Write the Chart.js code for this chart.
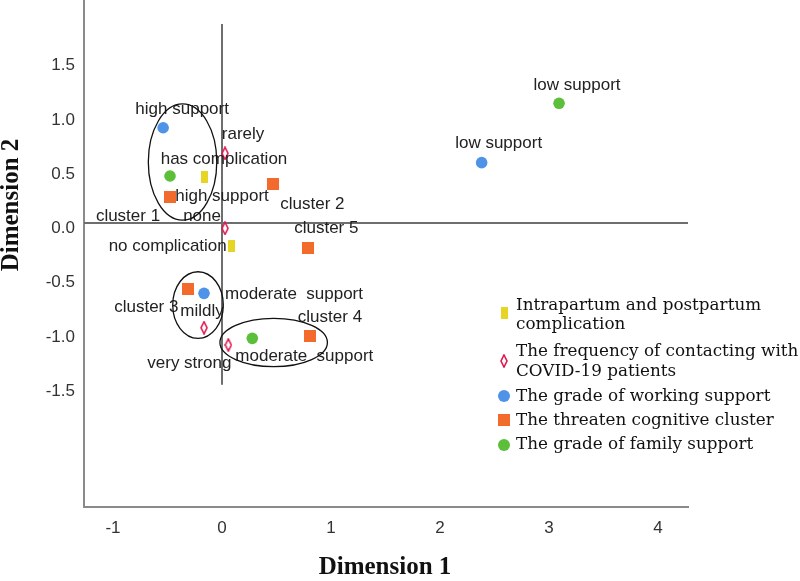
<!DOCTYPE html>
<html>
<head>
<meta charset="utf-8">
<script src="https://cdn.jsdelivr.net/npm/chart.js@4/dist/chart.umd.min.js"></script>
<style>
  html, body { margin: 0; padding: 0; background: #fff; }
  #wrap { width: 800px; height: 581px; }
</style>
</head>
<body>
<div id="wrap"><canvas id="c" width="800" height="581"></canvas></div>
<script>
// ---------------- data ----------------
const xTicks = [-1, 0, 1, 2, 3, 4];
const yTicks = [-1.5, -1.0, -0.5, 0.0, 0.5, 1.0, 1.5];

const complicationX = [-0.156, 0.089];
const complicationY = [0.421, -0.209];
const complicationLabels = ['has complication', 'no complication'];

const contactX = [0.028, 0.028, -0.165, 0.058];
const contactY = [0.642, -0.049, -0.965, -1.124];
const contactLabels = ['rarely', 'none', 'mildly', 'very strong'];

const workingX = [-0.540, -0.165, 2.382];
const workingY = [0.878, -0.648, 0.556];
const workingLabels = ['high support', 'moderate  support', 'low support'];

const clusterX = [-0.477, 0.471, -0.309, 0.807, 0.792];
const clusterY = [0.237, 0.359, -0.611, -1.041, -0.227];
const clusterLabels = ['cluster 1', 'cluster 2', 'cluster 3', 'cluster 4', 'cluster 5'];

const familyX = [-0.477, 0.278, 3.092];
const familyY = [0.433, -1.063, 1.103];
const familyLabels = ['high support', 'moderate  support', 'low support'];

const seriesNames = [
  ['Intrapartum and postpartum', 'complication'],
  ['The frequency of contacting with', 'COVID-19 patients'],
  ['The grade of working support'],
  ['The threaten cognitive cluster'],
  ['The grade of family support']
];

// ellipses (data units): cx, cy, rx, ry
const ellipseCX = [-0.362, -0.220, 0.474];
const ellipseCY = [0.562, -0.756, -1.101];
const ellipseRX = [0.314, 0.232, 0.493];
const ellipseRY = [0.535, 0.307, 0.223];

// ---------------- styling ----------------
const COL = {
  yellow: '#e6d524',
  red: '#e0174f',
  blue: '#4f93e8',
  orange: '#f26a2c',
  green: '#5cbf3a'
};
// label offsets in pixels (centre of text relative to the point)
const labelOffsets = [
  [[19, -18], [-64, 1]],
  [[18, -19], [-23, -12], [-2, -16], [-39, 18]],
  [[19, -18], [90, 1], [17, -19]],
  [[-42, 19], [39, 20], [-42, 18], [20, -19], [18, -19]],
  [[52, 20], [52, 18], [18, -18]]
];

function makeRect(w, h, color) {
  const c = document.createElement('canvas');
  c.width = w; c.height = h;
  const g = c.getContext('2d');
  g.fillStyle = color; g.fillRect(0, 0, w, h);
  return c;
}
function makeDiamond(w, h, color) {
  const c = document.createElement('canvas');
  c.width = w; c.height = h;
  const g = c.getContext('2d');
  g.fillStyle = '#fff';
  g.strokeStyle = color; g.lineWidth = 1.6;
  g.beginPath();
  g.moveTo(w / 2, 1); g.lineTo(w - 1, h / 2); g.lineTo(w / 2, h - 1); g.lineTo(1, h / 2); g.closePath();
  g.fill(); g.stroke();
  return c;
}
const yellowMark = makeRect(7, 12, COL.yellow);
const diamondMark = makeDiamond(8, 14, COL.red);
const orangeMark = makeRect(12, 12, COL.orange);

function pts(xs, ys) { return xs.map((x, i) => ({ x: x, y: ys[i] })); }

const datasets = [
  { label: seriesNames[0].join(' '), data: pts(complicationX, complicationY), pointStyle: yellowMark, texts: complicationLabels },
  { label: seriesNames[1].join(' '), data: pts(contactX, contactY), pointStyle: diamondMark, texts: contactLabels },
  { label: seriesNames[2].join(' '), data: pts(workingX, workingY), pointStyle: 'circle', pointRadius: 5.8, backgroundColor: COL.blue, borderColor: COL.blue, texts: workingLabels },
  { label: seriesNames[3].join(' '), data: pts(clusterX, clusterY), pointStyle: orangeMark, texts: clusterLabels },
  { label: seriesNames[4].join(' '), data: pts(familyX, familyY), pointStyle: 'circle', pointRadius: 5.8, backgroundColor: COL.green, borderColor: COL.green, texts: familyLabels }
];
datasets.forEach(d => { d.borderWidth = 0; if (!d.pointRadius) d.pointRadius = 6; d.pointHoverRadius = d.pointRadius; });

const SANS = '"Liberation Sans", Arial, sans-serif';
const SERIF = '"Liberation Serif", "Times New Roman", serif';
const LEGSERIF = '"DejaVu Serif", serif';

const decorPlugin = {
  id: 'decor',
  beforeDatasetsDraw(chart) {
    const { ctx, scales: { x, y } } = chart;
    ctx.save();
    ctx.strokeStyle = '#6e6e6e';
    ctx.lineWidth = 2;
    ctx.beginPath();
    ctx.moveTo(x.getPixelForValue(0), y.getPixelForValue(1.834));
    ctx.lineTo(x.getPixelForValue(0), y.getPixelForValue(-1.49));
    ctx.moveTo(x.left, y.getPixelForValue(0));
    ctx.lineTo(x.right, y.getPixelForValue(0));
    ctx.stroke();
    ctx.restore();
  },
  afterDatasetsDraw(chart) {
    const { ctx, scales: { x, y } } = chart;
    ctx.save();
    // point labels
    ctx.font = '17px ' + SANS;
    ctx.fillStyle = '#222';
    ctx.textAlign = 'center';
    ctx.textBaseline = 'middle';
    chart.data.datasets.forEach((ds, di) => {
      const meta = chart.getDatasetMeta(di);
      meta.data.forEach((el, i) => {
        const off = labelOffsets[di][i];
        ctx.fillText(ds.texts[i], el.x + off[0], el.y + off[1]);
      });
    });
    // ellipses
    ctx.strokeStyle = '#111';
    ctx.lineWidth = 1.3;
    ellipseCX.forEach((cx, i) => {
      const px = x.getPixelForValue(cx), py = y.getPixelForValue(ellipseCY[i]);
      const rx = Math.abs(x.getPixelForValue(cx + ellipseRX[i]) - px);
      const ry = Math.abs(y.getPixelForValue(ellipseCY[i] + ellipseRY[i]) - py);
      ctx.beginPath();
      ctx.ellipse(px, py, rx, ry, 0, 0, Math.PI * 2);
      ctx.stroke();
    });
    // legend
    const mx = 504, tx = 516;
    const rows = [
      { marks: 313, lines: [306, 325] },
      { marks: 361, lines: [352, 372] },
      { marks: 396, lines: [397] },
      { marks: 420, lines: [421] },
      { marks: 445, lines: [445] }
    ];
    ctx.font = '16.8px ' + LEGSERIF;
    ctx.textAlign = 'left';
    ctx.textBaseline = 'middle';
    seriesNames.forEach((lines, i) => {
      const r = rows[i];
      const ds = chart.data.datasets[i];
      if (ds.pointStyle === 'circle') {
        ctx.beginPath();
        ctx.fillStyle = ds.backgroundColor;
        ctx.arc(mx, r.marks, 6, 0, Math.PI * 2);
        ctx.fill();
      } else {
        const m = ds.pointStyle;
        ctx.drawImage(m, mx - m.width / 2, r.marks - m.height / 2);
      }
      ctx.fillStyle = '#111';
      lines.forEach((t, k) => ctx.fillText(t, tx, r.lines[k]));
    });
    // axis titles
    ctx.font = 'bold 25px ' + SERIF;
    ctx.textAlign = 'center';
    ctx.fillText('Dimension 1', 385, 568);
    ctx.translate(12, 205);
    ctx.rotate(-Math.PI / 2);
    ctx.fillText('Dimension 2', 0, 0);
    ctx.restore();
  }
};

new Chart(document.getElementById('c'), {
  type: 'scatter',
  data: { datasets },
  options: {
    responsive: false,
    devicePixelRatio: 1,
    animation: false,
    layout: { autoPadding: false, padding: { left: 0, right: 112, top: 0, bottom: 0 } },
    plugins: { legend: { display: false }, tooltip: { enabled: false } },
    scales: {
      x: {
        type: 'linear',
        min: -1.266, max: 4.275,
        afterBuildTicks: s => { s.ticks = xTicks.map(v => ({ value: v })); },
        afterFit: s => { s.height = 74; s.paddingLeft = 0; s.paddingRight = 0; },
        grid: { display: false, drawTicks: false },
        border: { display: true, color: '#8a8a8a', width: 2 },
        ticks: { font: { family: SANS, size: 17 }, color: '#333', padding: 11, callback: v => String(v) }
      },
      y: {
        type: 'linear',
        min: -2.617, max: 2.055,
        afterBuildTicks: s => { s.ticks = yTicks.map(v => ({ value: v })); },
        afterFit: s => { s.width = 84; s.paddingTop = 0; s.paddingBottom = 0; },
        grid: { display: false, drawTicks: false },
        border: { display: true, color: '#8a8a8a', width: 2 },
        ticks: { font: { family: SANS, size: 17 }, color: '#333', padding: 9, labelOffset: 5.5, callback: v => Number(v).toFixed(1) }
      }
    }
  },
  plugins: [decorPlugin]
});
</script>
</body>
</html>
